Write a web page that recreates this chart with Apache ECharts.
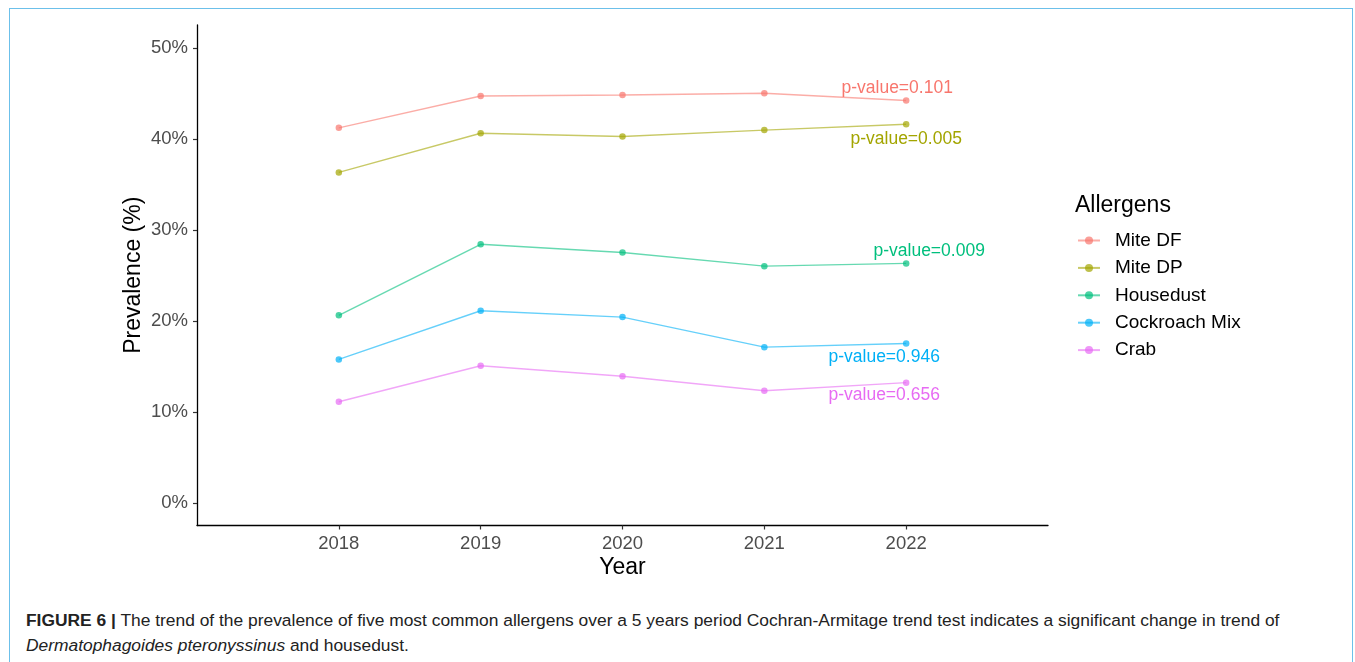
<!DOCTYPE html>
<html>
<head>
<meta charset="utf-8">
<script src="https://cdn.jsdelivr.net/npm/echarts@6/dist/echarts.min.js"></script>
<style>
  html, body { margin: 0; padding: 0; background: #fff; }
  body { width: 1355px; height: 662px; position: relative; overflow: hidden; font-family: "Liberation Sans", Arial, sans-serif; }
  #frame { position: absolute; left: 9px; top: 8px; width: 1344px; height: 700px; border: 1px solid #6cc0ea; box-sizing: border-box; }
  #chart { position: absolute; left: 0; top: 0; width: 1355px; height: 600px; }
  #caption { position: absolute; left: 26px; top: 608px; width: 1320px; font-size: 17.4px; line-height: 25px; color: #222; white-space: nowrap; }
</style>
</head>
<body>
<div id="frame"></div>
<div id="chart"></div>
<div id="caption"><b>FIGURE 6 |</b> The trend of the prevalence of five most common allergens over a 5 years period Cochran-Armitage trend test indicates a significant change in trend of<br><i>Dermatophagoides pteronyssinus</i> and housedust.</div>
<script>
// Survey years and allergen prevalence (%)
const years = [2018, 2019, 2020, 2021, 2022];
const allergens = ['Mite DF', 'Mite DP', 'Housedust', 'Cockroach Mix', 'Crab'];
const miteDF = [41.2, 44.7, 44.8, 45.0, 44.2];
const miteDP = [36.3, 40.6, 40.25, 40.95, 41.6];
const housedust = [20.6, 28.4, 27.5, 26.0, 26.3];
const cockroachMix = [15.75, 21.1, 20.4, 17.1, 17.5];
const crab = [11.1, 15.05, 13.9, 12.3, 13.2];
// Cochran-Armitage trend test results
const pValues = ['0.101', '0.005', '0.009', '0.946', '0.656'];
const yTicks = [0, 10, 20, 30, 40, 50];

const seriesValues = [miteDF, miteDP, housedust, cockroachMix, crab];
const colors = ['#F8766D', '#A3A500', '#00BF7D', '#00B0F6', '#E76BF3'];
// where each p-value annotation sits relative to the final point
const labelOffsets = [[-9, -12], [0, 15], [23, -12], [-22, 14], [-22, 13]];

const chart = echarts.init(document.getElementById('chart'), null, { renderer: 'canvas' });

const series = allergens.map((name, i) => ({
  name,
  type: 'line',
  data: years.map((yr, j) => {
    const item = { value: [yr, seriesValues[i][j]] };
    if (j === years.length - 1) {
      item.label = {
        show: true,
        position: 'inside',
        offset: labelOffsets[i],
        formatter: 'p-value=' + pValues[i],
        color: colors[i],
        opacity: 1,
        fontSize: 17.5,
        fontFamily: 'Liberation Sans'
      };
    }
    return item;
  }),
  color: colors[i],
  symbol: 'circle',
  symbolSize: 6.5,
  showSymbol: true,
  lineStyle: { width: 1.4, opacity: 0.6 },
  itemStyle: { opacity: 0.7 },
  emphasis: { disabled: true },
  animation: false,
  z: 2
}));

chart.setOption({
  animation: false,
  textStyle: { fontFamily: 'Liberation Sans' },
  grid: { left: 197, right: 307, top: 25, bottom: 600 - 525.5, containLabel: false },
  title: {
    text: 'Allergens',
    left: 1070,
    top: 189,
    textStyle: { fontSize: 23, fontWeight: 'normal', color: '#000', fontFamily: 'Liberation Sans' }
  },
  legend: {
    data: allergens,
    orient: 'vertical',
    left: 1072,
    top: 226,
    itemWidth: 22,
    itemHeight: 10,
    itemGap: 8.4,
    textStyle: { fontSize: 19, lineHeight: 19, color: '#000', padding: [0, 0, 0, 10], fontFamily: 'Liberation Sans' },
    selectedMode: false
  },
  xAxis: {
    type: 'value',
    min: 2017,
    max: 2023,
    interval: 1,
    name: 'Year',
    nameLocation: 'middle',
    nameGap: 31,
    nameMoveOverlap: false,
    nameTextStyle: { fontSize: 23, color: '#000' },
    axisLine: { show: true, onZero: false, lineStyle: { color: '#000', width: 1.3 } },
    axisTick: { show: true, length: 4, customValues: years, lineStyle: { color: '#333', width: 1.2 } },
    axisLabel: { customValues: years, fontSize: 18.5, color: '#4D4D4D', margin: 9, formatter: v => String(v) },
    splitLine: { show: false }
  },
  yAxis: {
    type: 'value',
    min: -2.5,
    max: 52.5,
    name: 'Prevalence (%)',
    nameLocation: 'middle',
    nameGap: 52,
    nameMoveOverlap: false,
    nameRotate: 90,
    nameTextStyle: { fontSize: 23, color: '#000' },
    axisLine: { show: true, onZero: false, lineStyle: { color: '#000', width: 1.3 } },
    axisTick: { show: true, length: 4, customValues: yTicks, lineStyle: { color: '#333', width: 1.2 } },
    axisLabel: { customValues: yTicks, fontSize: 18.5, color: '#4D4D4D', margin: 9, formatter: v => v + '%' },
    splitLine: { show: false }
  },
  series
});
</script>
</body>
</html>
